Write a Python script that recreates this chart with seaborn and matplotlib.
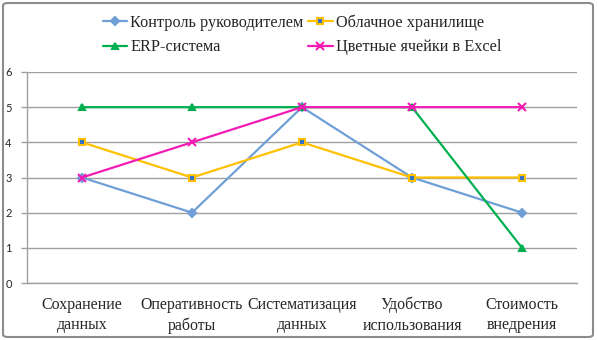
import numpy as np
import pandas as pd
import matplotlib
matplotlib.use('Agg')
import matplotlib.pyplot as plt
import seaborn as sns
from matplotlib.patches import FancyBboxPatch

# dados
categorias = ['Сохранение\nданных', 'Оперативность\nработы', 'Систематизация\nданных',
              'Удобство\nиспользования', 'Стоимость\nвнедрения']
series_nomes = ['Контроль руководителем', 'Облачное хранилище', 'ERP-система', 'Цветные ячейки в Excel']
kontrol = [3, 2, 5, 3, 2]
oblako = [4, 3, 4, 3, 3]
erp = [5, 5, 5, 5, 1]
excel = [3, 4, 5, 5, 5]
y_ticks = [0, 1, 2, 3, 4, 5, 6]

valores = [kontrol, oblako, erp, excel]
cores = ['#6F9FD6', '#FFC000', '#00B050', '#F21CB4']
marcadores = ['D', 's', '^', 'x']
faces = ['#6F9FD6', '#2F6FD0', '#00B050', '#F21CB4']
tam = [4, 5, 5, 6]

sns.set_style('white')
plt.rcParams['font.family'] = ['Liberation Serif', 'DejaVu Serif']

fig = plt.figure(figsize=(5.98, 3.40), dpi=100)
ax = fig.add_axes([27 / 598, 57 / 340, 550 / 598, 211 / 340])

x = np.arange(len(categorias))
for nome, vals, cor, mk, fc, ms in zip(series_nomes, valores, cores, marcadores, faces, tam):
    df = pd.DataFrame({'x': x, 'y': vals})
    sns.lineplot(data=df, x='x', y='y', ax=ax, color=cor, linewidth=1.6, label=nome,
                 marker=mk, markersize=ms, markerfacecolor=fc, markeredgecolor=cor,
                 markeredgewidth=1.5)

ax.set_xlim(-0.5, len(categorias) - 0.5)
ax.set_ylim(0, 6)
ax.set_yticks(y_ticks)
ax.set_yticklabels([str(v) for v in y_ticks], family='Lato', fontsize=8)
ax.set_xticks(x)
ax.set_xticklabels(categorias, fontsize=11.4, linespacing=1.35)
ax.set_xticks(np.arange(-0.5, len(categorias)), minor=True)
ax.tick_params(axis='x', which='major', length=0, pad=10)
ax.tick_params(axis='x', which='minor', length=4, color='#A0A0A0', width=1)
ax.tick_params(axis='y', length=4, color='#A0A0A0', width=1, pad=7, left=True)
ax.set_xlabel('')
ax.set_ylabel('')
ax.grid(axis='y', color='#A0A0A0', linewidth=1)
ax.set_axisbelow(True)
for s in ['top', 'right']:
    ax.spines[s].set_visible(False)
for s in ['left', 'bottom']:
    ax.spines[s].set_color('#A0A0A0')
    ax.spines[s].set_linewidth(1)

ax.get_legend().remove()
handles, labels = ax.get_legend_handles_labels()
ordem = [0, 2, 1, 3]  # legenda preenche por coluna
fig.legend([handles[i] for i in ordem], [labels[i] for i in ordem], ncol=2,
           loc='upper center', bbox_to_anchor=(0.505, 1.0),
           frameon=False, fontsize=11.7, handlelength=1.5, handletextpad=0.2,
           columnspacing=0.3, labelspacing=0.5)

# moldura
fig.patches.append(FancyBboxPatch((3 / 598, 3 / 340), 590 / 598, 334 / 340,
                                  boxstyle='round,pad=0,rounding_size=0.008',
                                  transform=fig.transFigure, fill=False,
                                  edgecolor='#8C8C8C', linewidth=1.5))

plt.savefig('out.png', dpi=100)
